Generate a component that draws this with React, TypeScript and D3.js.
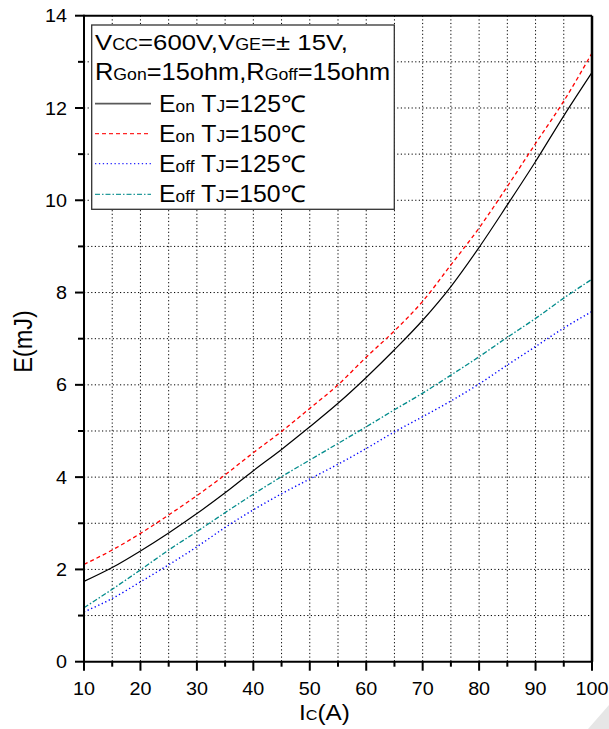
import React from "react";
import * as d3 from "d3";

const currents = [10, 15, 20, 25, 30, 35, 40, 45, 50, 55, 60, 65, 70, 75, 80, 85, 90, 95, 100];
const eon125 = [1.74, 2.04, 2.40, 2.79, 3.21, 3.66, 4.14, 4.60, 5.09, 5.60, 6.16, 6.76, 7.40, 8.13, 8.98, 9.90, 10.84, 11.83, 12.77];
const eon150 = [2.11, 2.42, 2.78, 3.18, 3.60, 4.05, 4.53, 4.99, 5.49, 6.00, 6.60, 7.17, 7.81, 8.60, 9.40, 10.30, 11.23, 12.15, 13.19];
const eoff125 = [1.08, 1.37, 1.73, 2.10, 2.49, 2.91, 3.29, 3.64, 3.96, 4.28, 4.62, 4.98, 5.31, 5.65, 6.02, 6.43, 6.83, 7.23, 7.59];
const eoff150 = [1.17, 1.57, 1.99, 2.42, 2.82, 3.23, 3.63, 4.01, 4.37, 4.73, 5.09, 5.46, 5.82, 6.21, 6.61, 7.03, 7.44, 7.88, 8.29];

const xTicks = [10, 20, 30, 40, 50, 60, 70, 80, 90, 100];
const xMinor = [15, 25, 35, 45, 55, 65, 75, 85, 95];
const yTicks = [0, 2, 4, 6, 8, 10, 12, 14];
const yMinor = [1, 3, 5, 7, 9, 11, 13];

const series = [
  { name: "on", tj: "125", values: eon125, color: "#000000", dash: "", width: 1.2 },
  { name: "on", tj: "150", values: eon150, color: "#ff0000", dash: "4,3", width: 1.3 },
  { name: "off", tj: "125", values: eoff125, color: "#0000ff", dash: "1.3,2.6", width: 1.4 },
  { name: "off", tj: "150", values: eoff150, color: "#008b8b", dash: "5,2,1.5,2", width: 1.3 },
];

const W = 609;
const H = 729;
const L = 84, R = 592, T = 15.7, B = 661.7;
const FONT = "'Liberation Sans', Arial, Helvetica, sans-serif";
const SX = 1.1;

function Txt(props: { x: number; y: number; size: number; anchor?: string; sx?: number; rotate?: number; children: React.ReactNode }) {
  const { x, y, size, anchor = "start", sx = SX, rotate = 0, children } = props;
  return (
    <text
      transform={`translate(${x},${y}) scale(${sx},1)${rotate ? ` rotate(${rotate})` : ""}`}
      fontSize={size}
      textAnchor={anchor}
      fill="#000"
    >
      {children}
    </text>
  );
}

export default function App() {
  const x = d3.scaleLinear().domain([10, 100]).range([L, R]);
  const y = d3.scaleLinear().domain([0, 14]).range([B, T]);
  const line = d3
    .line<[number, number]>()
    .x((d) => x(d[0]))
    .y((d) => y(d[1]))
    .curve(d3.curveMonotoneX);

  const gridV = [...xMinor, ...xTicks.slice(1, -1)];
  const gridH = [...yMinor, ...yTicks.slice(1, -1)];

  const legX = 91.7, legY = 25, legW = 302.6, legH = 184.3;
  const entryY = [111.7, 141.7, 171.7, 202.4];

  return (
    <svg
      width={W}
      height={H}
      style={{ position: "absolute", left: 0, top: 0, display: "block", background: "#fff" }}
      fontFamily={FONT}
    >
      <rect x={0} y={0} width={W} height={H} fill="#fff" />
      {/* grid */}
      {gridV.map((v) => (
        <line key={"gv" + v} x1={x(v)} x2={x(v)} y1={T} y2={B} stroke="#000" strokeWidth={1} strokeDasharray="1.2,2.4" />
      ))}
      {gridH.map((v) => (
        <line key={"gh" + v} x1={L} x2={R} y1={y(v)} y2={y(v)} stroke="#000" strokeWidth={1} strokeDasharray="1.2,2.4" />
      ))}
      {/* curves */}
      {series.map((s, i) => (
        <path
          key={"s" + i}
          d={line(currents.map((c, j) => [c, s.values[j]] as [number, number])) || ""}
          fill="none"
          stroke={s.color}
          strokeWidth={s.width}
          strokeDasharray={s.dash || undefined}
        />
      ))}
      {/* axes frame */}
      <line x1={L} x2={R} y1={T} y2={T} stroke="#000" strokeWidth={2} />
      <line x1={R} x2={R} y1={T} y2={B} stroke="#000" strokeWidth={2.5} />
      <line x1={L} x2={L} y1={T - 1} y2={B + 1} stroke="#000" strokeWidth={2} />
      <line x1={L - 1} x2={R + 1} y1={B} y2={B} stroke="#000" strokeWidth={2} />
      {/* x ticks */}
      {xTicks.map((v) => (
        <g key={"xt" + v}>
          <line x1={x(v)} x2={x(v)} y1={B} y2={B + 9} stroke="#000" strokeWidth={2} />
          <Txt x={x(v)} y={695} size={18.3} anchor="middle" sx={1.08}>
            {v}
          </Txt>
        </g>
      ))}
      {xMinor.map((v) => (
        <line key={"xm" + v} x1={x(v)} x2={x(v)} y1={B} y2={B + 5} stroke="#000" strokeWidth={2} />
      ))}
      {/* y ticks */}
      {yTicks.map((v) => (
        <g key={"yt" + v}>
          <line x1={L - 9} x2={L} y1={y(v)} y2={y(v)} stroke="#000" strokeWidth={2} />
          <Txt x={67} y={y(v) + 6.6} size={18.3} anchor="end" sx={1.08}>
            {v}
          </Txt>
        </g>
      ))}
      {yMinor.map((v) => (
        <line key={"ym" + v} x1={L - 6} x2={L} y1={y(v)} y2={y(v)} stroke="#000" strokeWidth={2} />
      ))}
      {/* axis titles */}
      <Txt x={32} y={341.5} size={23.5} anchor="middle" rotate={-90}>
        E(mJ)
      </Txt>
      <Txt x={299} y={720} size={22.5} sx={1.08}>
        I<tspan fontSize={15}>C</tspan>(A)
      </Txt>
      {/* legend */}
      <rect x={legX} y={legY} width={legW} height={legH} fill="#fff" stroke="#333" strokeWidth={1.3} />
      <Txt x={95} y={50} size={23} sx={1.12}>
        V<tspan fontSize={16}>CC</tspan>=600V,V<tspan fontSize={16}>GE</tspan>=± 15V,
      </Txt>
      <Txt x={95} y={80.3} size={23} sx={1.105}>
        R<tspan fontSize={16}>Gon</tspan>=15ohm,R<tspan fontSize={16}>Goff</tspan>=15ohm
      </Txt>
      {series.map((s, i) => (
        <g key={"lg" + i}>
          <line
            x1={95}
            x2={151}
            y1={entryY[i] - 8}
            y2={entryY[i] - 8}
            stroke={s.color}
            strokeOpacity={i === 0 ? 0.65 : 0.85}
            strokeWidth={i === 0 ? 1.8 : 1.3}
            strokeDasharray={s.dash || undefined}
          />
          <Txt x={159} y={entryY[i]} size={23} sx={1.08}>
            E<tspan fontSize={16}>{s.name}</tspan> T<tspan fontSize={16}>J</tspan>={s.tj}℃
          </Txt>
        </g>
      ))}
      {/* corner mark */}
      <polygon points="588,729 609,705 609,729" fill="#e6e6e6" />
    </svg>
  );
}
